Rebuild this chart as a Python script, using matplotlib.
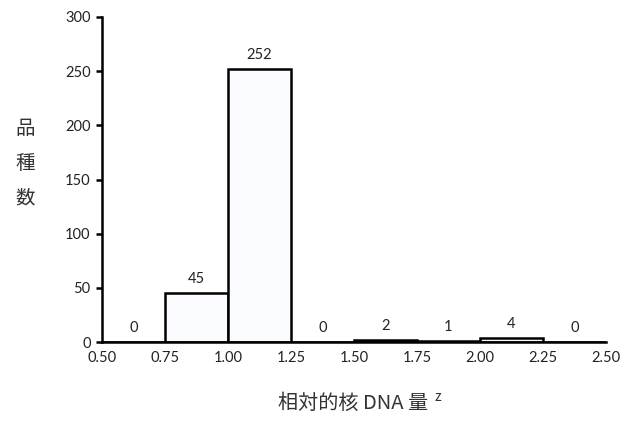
import matplotlib.pyplot as plt
import numpy as np

plt.rcParams['font.family'] = ['Lato', 'DejaVu Sans']

# bin left edges (relative nuclear DNA) and counts
bin_left = [0.50, 0.75, 1.00, 1.25, 1.50, 1.75, 2.00, 2.25]
counts = [0, 45, 252, 0, 2, 1, 4, 0]
xticks = [0.50, 0.75, 1.00, 1.25, 1.50, 1.75, 2.00, 2.25, 2.50]
yticks = [0, 50, 100, 150, 200, 250, 300]

fig = plt.figure(figsize=(6.28, 4.23), dpi=100)
ax = fig.add_axes([0.162, 0.191, 0.803, 0.769])

bars = ax.bar(bin_left, counts, width=0.25, align='edge',
              color='#fafcff', edgecolor='black', linewidth=1.8)

for x, c in zip(bin_left, counts):
    ax.annotate(str(c), (x + 0.125, c), xytext=(0, 5), textcoords='offset points',
                ha='center', va='bottom', fontsize=10.5, color='#222222')

ax.set_xlim(0.5, 2.5)
ax.set_ylim(0, 300)
ax.set_xticks(xticks)
ax.set_xticklabels(['%.2f' % t for t in xticks])
ax.set_yticks(yticks)
ax.tick_params(axis='y', direction='out', length=4, width=1.8, labelsize=10.5, pad=4,
               labelcolor='#222222')
ax.tick_params(axis='x', length=0, labelsize=10.5, pad=6, labelcolor='#222222')

for s in ['top', 'right']:
    ax.spines[s].set_visible(False)
for s in ['left', 'bottom']:
    ax.spines[s].set_linewidth(1.8)

cjk = ['Noto Sans CJK JP', 'DejaVu Sans']
fig.text(0.040, 0.614, '品\n種\n数', ha='center', va='center', fontsize=14,
         family=cjk, linespacing=1.85, color='#333333')
xl = fig.text(0.443, 0.022, '相対的核 DNA 量', ha='left', va='bottom', fontsize=14.5,
              family=cjk, color='#333333')
fig.canvas.draw()
bb = xl.get_window_extent()
fig.text(bb.x1 / fig.bbox.width + 0.01, 0.046, 'z', ha='left', va='bottom', fontsize=10,
         family=cjk, color='#333333')

fig.savefig('out.png', dpi=100)
